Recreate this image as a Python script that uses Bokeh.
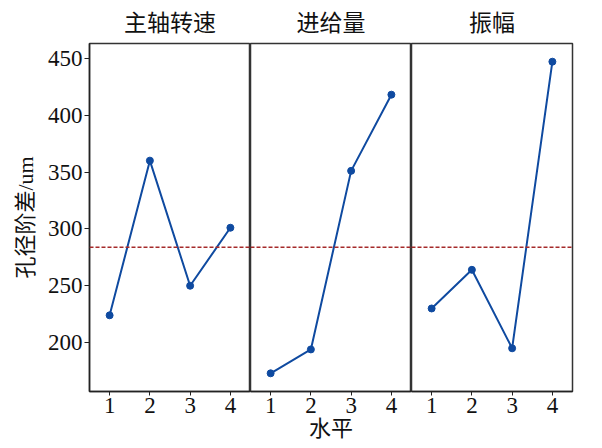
from bokeh.plotting import figure
from bokeh.layouts import row
from bokeh.models import Range1d, Span, FixedTicker
from bokeh.embed import file_html
from bokeh.resources import INLINE

factors = ["主轴转速", "进给量", "振幅"]
levels = [1, 2, 3, 4]
spindle_speed = [224, 360, 250, 301]
feed_rate = [173, 194, 351, 418]
amplitude = [230, 264, 195, 447]
y_ticks = [200, 250, 300, 350, 400, 450]
y_label = "孔径阶差/um"
x_label = "水平"

series = [spindle_speed, feed_rate, amplitude]
all_vals = spindle_speed + feed_rate + amplitude
grand_mean = sum(all_vals) / len(all_vals)

FONT = "'Liberation Serif', 'Noto Sans CJK SC'"
LINE = "#0f4aa0"

yr = Range1d(157, 463)
figs = []
for i, (name, vals) in enumerate(zip(factors, series)):
    p = figure(output_backend="svg", toolbar_location=None,
               frame_width=161, frame_height=348,
               x_range=Range1d(0.5, 4.5), y_range=yr,
               min_border_top=42, min_border_bottom=50,
               min_border_left=89 if i == 0 else 0,
               min_border_right=20 if i == 2 else 0,
               y_axis_location="left" if i == 0 else None,
               title=name)
    p.title.align = "center"
    p.title.text_font = FONT
    p.title.text_font_size = "23px"
    p.title.text_font_style = "normal"
    p.title.text_color = "#111111"
    p.title.standoff = 16
    p.grid.visible = False
    p.outline_line_color = "#333333"
    p.outline_line_width = 1.5
    p.background_fill_color = "white"
    p.border_fill_color = "white"

    p.xaxis.ticker = FixedTicker(ticks=levels)
    p.xaxis.major_label_text_font = FONT
    p.xaxis.major_label_text_font_size = "23px"
    p.xaxis.major_label_text_color = "#111111"
    p.xaxis.major_tick_in = 0
    p.xaxis.major_tick_out = 4
    p.xaxis.minor_tick_line_color = None
    p.xaxis.axis_line_color = "#222222"
    p.xaxis.axis_line_width = 1.5
    p.xaxis.major_tick_line_color = "#222222"
    p.xaxis.major_label_standoff = 2
    if i == 1:
        p.xaxis.axis_label = x_label
        p.xaxis.axis_label_text_font = FONT
        p.xaxis.axis_label_text_font_size = "22px"
        p.xaxis.axis_label_text_font_style = "normal"
        p.xaxis.axis_label_text_color = "#111111"
        p.xaxis.axis_label_standoff = 0
    if i == 0:
        p.yaxis.ticker = FixedTicker(ticks=y_ticks)
        p.yaxis.major_label_text_font = FONT
        p.yaxis.major_label_text_font_size = "23px"
        p.yaxis.major_label_text_color = "#111111"
        p.yaxis.major_tick_in = 0
        p.yaxis.major_tick_out = 5
        p.yaxis.minor_tick_line_color = None
        p.yaxis.axis_line_color = "#222222"
        p.yaxis.axis_line_width = 1.5
        p.yaxis.major_tick_line_color = "#222222"
        p.yaxis.major_label_standoff = 2
        p.yaxis.axis_label = y_label
        p.yaxis.axis_label_text_font = FONT
        p.yaxis.axis_label_text_font_size = "22px"
        p.yaxis.axis_label_text_font_style = "normal"
        p.yaxis.axis_label_text_color = "#111111"
        p.yaxis.axis_label_standoff = 7

    p.add_layout(Span(location=grand_mean, dimension="width",
                      line_color="#a52a2a", line_dash="4 2", line_width=1.5))
    p.line(levels, vals, line_color=LINE, line_width=2)
    p.scatter(levels, vals, size=7, fill_color=LINE, line_color=LINE)
    figs.append(p)

layout = row(*figs, spacing=0)
open("out.html", "w").write(file_html(layout, INLINE))
